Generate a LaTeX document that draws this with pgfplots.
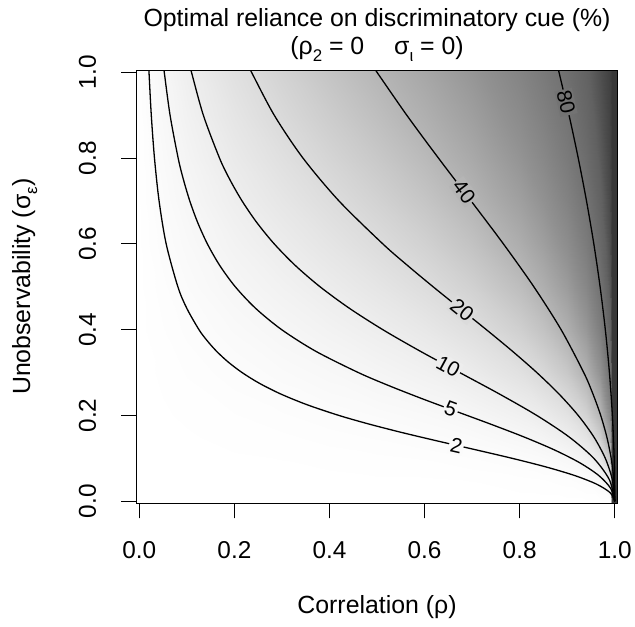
\documentclass[border=0pt]{standalone}
\usepackage{fontspec}
\setmainfont{Liberation Sans}
\usepackage{pgfplots}
\pgfplotsset{compat=1.18}
\newcommand{\sub}[1]{\raisebox{-0.28em}{\fontsize{17}{17}\selectfont #1}}
\newcommand{\tickfont}{\fontsize{24.5}{24.5}\selectfont}
\newcommand{\labfont}{\fontsize{25}{28}\selectfont}
\newcommand{\cfont}{\fontsize{21}{21}\selectfont}
\definecolor{c2}{gray}{0.986}
\definecolor{c5}{gray}{0.965}
\definecolor{c10}{gray}{0.93}
\definecolor{c20}{gray}{0.86}
\definecolor{c40}{gray}{0.71}
\definecolor{c80}{gray}{0.45}
\begin{document}
\begin{tikzpicture}
\begin{axis}[
  view={0}{90},
  scale only axis, width=482bp, height=434bp,
  xmin=-0.006, xmax=1.006, ymin=-0.005, ymax=1.005, zmin=0, zmax=1,
  xtick={0,0.2,0.4,0.6,0.8,1}, xticklabels={0.0,0.2,0.4,0.6,0.8,1.0},
  ytick={0,0.2,0.4,0.6,0.8,1}, yticklabels={0.0,0.2,0.4,0.6,0.8,1.0},
  ztick=\empty,
  xtick pos=bottom, ytick pos=left,
  tick align=outside, major tick length=15bp,
  tick style={black, line width=0.9bp},
  axis line style={black, line width=0.9bp},
  axis on top,
  colormap={rgray}{gray(0cm)=(1); gray(2cm)=(0.86); gray(4cm)=(0.71); gray(6cm)=(0.57); gray(8cm)=(0.45); gray(9cm)=(0.38); gray(10cm)=(0.22)},
  point meta min=0, point meta max=1,
  xticklabel style={font=\tickfont, anchor=north, yshift=-20bp},
  yticklabel style={font=\tickfont, xshift=-22bp, rotate=90, anchor=south},
  xlabel={Correlation (ρ)},
  ylabel={Unobservability (σ\sub{ε})},
  title={Optimal reliance on discriminatory cue (\%)\\(ρ\sub{2} = 0\hspace{1.2em}σ\sub{ι} = 0)},
  every axis x label/.style={at={([yshift=-104bp]axis description cs:0.5,0)}, anchor=center, font=\labfont},
  every axis y label/.style={at={([xshift=-112bp]axis description cs:0,0.5)}, rotate=90, anchor=center, font=\labfont},
  every axis title/.style={at={([yshift=35bp]axis description cs:0.5,1)}, anchor=center, align=center, font=\labfont},
]
\addplot3[surf, shader=interp, mesh/cols=17, mesh/rows=13] coordinates {
(-0.006,-0.005,0) (0.05,-0.005,0) (0.1,-0.005,0) (0.2,-0.005,0) (0.3,-0.005,0) (0.4,-0.005,0) (0.5,-0.005,0) (0.6,-0.005,0) (0.7,-0.005,0) (0.8,-0.005,0) (0.85,-0.005,0) (0.9,-0.005,0) (0.94,-0.005,0) (0.97,-0.005,0) (0.99,-0.005,0) (0.994,-0.005,1) (1.006,-0.005,1)
(-0.006,0.05,0) (0.05,0.05,0.000) (0.1,0.05,0.000) (0.2,0.05,0.001) (0.3,0.05,0.001) (0.4,0.05,0.001) (0.5,0.05,0.002) (0.6,0.05,0.002) (0.7,0.05,0.003) (0.8,0.05,0.006) (0.85,0.05,0.008) (0.9,0.05,0.012) (0.94,0.05,0.020) (0.97,0.05,0.039) (0.99,0.05,0.111) (0.994,0.05,1) (1.006,0.05,1)
(-0.006,0.1,0) (0.05,0.1,0.001) (0.1,0.1,0.001) (0.2,0.1,0.002) (0.3,0.1,0.003) (0.4,0.1,0.005) (0.5,0.1,0.007) (0.6,0.1,0.009) (0.7,0.1,0.014) (0.8,0.1,0.022) (0.85,0.1,0.030) (0.9,0.1,0.045) (0.94,0.1,0.075) (0.97,0.1,0.141) (0.99,0.1,0.332) (0.994,0.1,1) (1.006,0.1,1)
(-0.006,0.15,0) (0.05,0.15,0.001) (0.1,0.15,0.002) (0.2,0.15,0.005) (0.3,0.15,0.007) (0.4,0.15,0.011) (0.5,0.15,0.015) (0.6,0.15,0.021) (0.7,0.15,0.030) (0.8,0.15,0.048) (0.85,0.15,0.064) (0.9,0.15,0.096) (0.94,0.15,0.154) (0.97,0.15,0.270) (0.99,0.15,0.528) (0.994,0.15,1) (1.006,0.15,1)
(-0.006,0.2,0) (0.05,0.2,0.002) (0.1,0.2,0.004) (0.2,0.2,0.008) (0.3,0.2,0.013) (0.4,0.2,0.019) (0.5,0.2,0.026) (0.6,0.2,0.036) (0.7,0.2,0.052) (0.8,0.2,0.082) (0.85,0.2,0.109) (0.9,0.2,0.159) (0.94,0.2,0.244) (0.97,0.2,0.396) (0.99,0.2,0.666) (0.994,0.2,1) (1.006,0.2,1)
(-0.006,0.3,0) (0.05,0.3,0.004) (0.1,0.3,0.009) (0.2,0.3,0.018) (0.3,0.3,0.029) (0.4,0.3,0.041) (0.5,0.3,0.057) (0.6,0.3,0.078) (0.7,0.3,0.110) (0.8,0.3,0.167) (0.85,0.3,0.216) (0.9,0.3,0.299) (0.94,0.3,0.421) (0.97,0.3,0.596) (0.99,0.3,0.817) (0.994,0.3,1) (1.006,0.3,1)
(-0.006,0.4,0) (0.05,0.4,0.008) (0.1,0.4,0.016) (0.2,0.4,0.032) (0.3,0.4,0.050) (0.4,0.4,0.071) (0.5,0.4,0.096) (0.6,0.4,0.130) (0.7,0.4,0.180) (0.8,0.4,0.262) (0.85,0.4,0.329) (0.9,0.4,0.431) (0.94,0.4,0.564) (0.97,0.4,0.724) (0.99,0.4,0.888) (0.994,0.4,1) (1.006,0.4,1)
(-0.006,0.5,0) (0.05,0.5,0.012) (0.1,0.5,0.025) (0.2,0.5,0.050) (0.3,0.5,0.076) (0.4,0.5,0.106) (0.5,0.5,0.143) (0.6,0.5,0.190) (0.7,0.5,0.255) (0.8,0.5,0.357) (0.85,0.5,0.434) (0.9,0.5,0.542) (0.94,0.5,0.669) (0.97,0.5,0.804) (0.99,0.5,0.926) (0.994,0.5,1) (1.006,0.5,1)
(-0.006,0.6,0) (0.05,0.6,0.018) (0.1,0.6,0.035) (0.2,0.6,0.070) (0.3,0.6,0.106) (0.4,0.6,0.146) (0.5,0.6,0.194) (0.6,0.6,0.252) (0.7,0.6,0.331) (0.8,0.6,0.444) (0.85,0.6,0.524) (0.9,0.6,0.630) (0.94,0.6,0.744) (0.97,0.6,0.855) (0.99,0.6,0.947) (0.994,0.6,1) (1.006,0.6,1)
(-0.006,0.7,0) (0.05,0.7,0.024) (0.1,0.7,0.047) (0.2,0.7,0.093) (0.3,0.7,0.139) (0.4,0.7,0.189) (0.5,0.7,0.246) (0.6,0.7,0.315) (0.7,0.7,0.402) (0.8,0.7,0.521) (0.85,0.7,0.600) (0.9,0.7,0.699) (0.94,0.7,0.798) (0.97,0.7,0.889) (0.99,0.7,0.961) (0.994,0.7,1) (1.006,0.7,1)
(-0.006,0.8,0) (0.05,0.8,0.031) (0.1,0.8,0.061) (0.2,0.8,0.118) (0.3,0.8,0.174) (0.4,0.8,0.234) (0.5,0.8,0.299) (0.6,0.8,0.375) (0.7,0.8,0.468) (0.8,0.8,0.587) (0.85,0.8,0.662) (0.9,0.8,0.752) (0.94,0.8,0.838) (0.97,0.8,0.913) (0.99,0.8,0.970) (0.994,0.8,1) (1.006,0.8,1)
(-0.006,0.9,0) (0.05,0.9,0.039) (0.1,0.9,0.076) (0.2,0.9,0.144) (0.3,0.9,0.211) (0.4,0.9,0.278) (0.5,0.9,0.351) (0.6,0.9,0.432) (0.7,0.9,0.526) (0.8,0.9,0.643) (0.85,0.9,0.713) (0.9,0.9,0.793) (0.94,0.9,0.867) (0.97,0.9,0.930) (0.99,0.9,0.976) (0.994,0.9,1) (1.006,0.9,1)
(-0.006,1.005,0) (0.05,1.005,0.048) (0.1,1.005,0.092) (0.2,1.005,0.172) (0.3,1.005,0.248) (0.4,1.005,0.323) (0.5,1.005,0.400) (0.6,1.005,0.484) (0.7,1.005,0.579) (0.8,1.005,0.690) (0.85,1.005,0.754) (0.9,1.005,0.826) (0.94,1.005,0.890) (0.97,1.005,0.943) (0.99,1.005,0.980) (0.994,1.005,1) (1.006,1.005,1)
};
% contour 2
\addplot3[black, line width=1.3bp, smooth] coordinates {
(0.0202,1.005,1) (0.0204,1,1) (0.0252,0.9,1) (0.0319,0.8,1) (0.0416,0.7,1) (0.0565,0.6,1) (0.0811,0.5,1) (0.0998,0.45,1) (0.1255,0.4,1) (0.1422,0.375,1) (0.1622,0.35,1) (0.1865,0.325,1) (0.2162,0.3,1) (0.2526,0.275,1) (0.2976,0.25,1) (0.3529,0.225,1) (0.4201,0.2,1) (0.4830,0.18,1) (0.5532,0.16,1) (0.6291,0.14,1) (0.7076,0.12,1) (0.7846,0.1,1) (0.8554,0.08,1) (0.9157,0.06,1) (0.9616,0.04,1) (0.9903,0.02,1) (1,0,1)
};
% contour 5
\addplot3[black, line width=1.3bp, smooth] coordinates {
(0.0519,1.005,1) (0.0525,1,1) (0.0647,0.9,1) (0.0817,0.8,1) (0.0928,0.75,1) (0.1062,0.7,1) (0.1227,0.65,1) (0.1432,0.6,1) (0.1690,0.55,1) (0.2019,0.5,1) (0.2444,0.45,1) (0.2995,0.4,1) (0.3706,0.35,1) (0.4607,0.3,1) (0.5239,0.27,1) (0.5927,0.24,1) (0.6653,0.21,1) (0.7385,0.18,1) (0.8089,0.15,1) (0.8725,0.12,1) (0.9260,0.09,1) (0.9664,0.06,1) (0.9915,0.03,1) (1,0,1)
};
% contour 10
\addplot3[black, line width=1.3bp, smooth] coordinates {
(0.1086,1.005,1) (0.1098,1,1) (0.1347,0.9,1) (0.1687,0.8,1) (0.1904,0.75,1) (0.2162,0.7,1) (0.2470,0.65,1) (0.2838,0.6,1) (0.3278,0.55,1) (0.3802,0.5,1) (0.4417,0.45,1) (0.5122,0.4,1) (0.5906,0.35,1) (0.6739,0.3,1) (0.7575,0.25,1) (0.8361,0.2,1) (0.9039,0.15,1) (0.9560,0.1,1) (0.9888,0.05,1) (1,0,1)
};
% contour 20
\addplot3[black, line width=1.3bp, smooth] coordinates {
(0.2337,1.005,1) (0.2361,1,1) (0.2838,0.9,1) (0.3443,0.8,1) (0.4201,0.7,1) (0.5122,0.6,1) (0.5638,0.55,1) (0.6180,0.5,1) (0.6739,0.45,1) (0.7300,0.4,1) (0.7846,0.35,1) (0.8361,0.3,1) (0.8828,0.25,1) (0.9232,0.2,1) (0.9560,0.15,1) (0.9802,0.1,1) (0.9950,0.05,1) (1,0,1)
};
% contour 40
\addplot3[black, line width=1.3bp, smooth] coordinates {
(0.4969,1.005,1) (0.5,1,1) (0.5626,0.9,1) (0.6292,0.8,1) (0.6979,0.7,1) (0.7658,0.6,1) (0.8299,0.5,1) (0.8872,0.4,1) (0.9348,0.3,1) (0.9542,0.25,1) (0.9705,0.2,1) (0.9833,0.15,1) (0.9925,0.1,1) (0.9981,0.05,1) (1,0,1)
};
% contour 80
\addplot3[black, line width=1.3bp, smooth] coordinates {
(0.8817,1.005,1) (0.8828,1,1) (0.9039,0.9,1) (0.9232,0.8,1) (0.9406,0.7,1) (0.9560,0.6,1) (0.9692,0.5,1) (0.9802,0.4,1) (0.9888,0.3,1) (0.9950,0.2,1) (0.9988,0.1,1) (1,0,1)
};
\node[rotate=-12.8, fill=c2, inner sep=1.5bp, font=\cfont] at (axis cs:0.667,0.1304,1) {2};
\node[rotate=-20.4, fill=c5, inner sep=1.5bp, font=\cfont] at (axis cs:0.655,0.2143,1) {5};
\node[rotate=-28.4, fill=c10, inner sep=1.5bp, font=\cfont] at (axis cs:0.650,0.3144,1) {10};
\node[rotate=-38.8, fill=c20, inner sep=1.5bp, font=\cfont] at (axis cs:0.679,0.4455,1) {20};
\node[rotate=-52.7, fill=c40, inner sep=1.5bp, font=\cfont] at (axis cs:0.683,0.7215,1) {40};
\node[rotate=-76.8, fill=c80, inner sep=1.5bp, font=\cfont] at (axis cs:0.8976,0.93,1) {80};
\coordinate (O) at (rel axis cs:0,0,0);
\end{axis}
\path (O) ++(-136.7bp,-123.7bp) rectangle ++(635bp,628bp);
\end{tikzpicture}
\end{document}
